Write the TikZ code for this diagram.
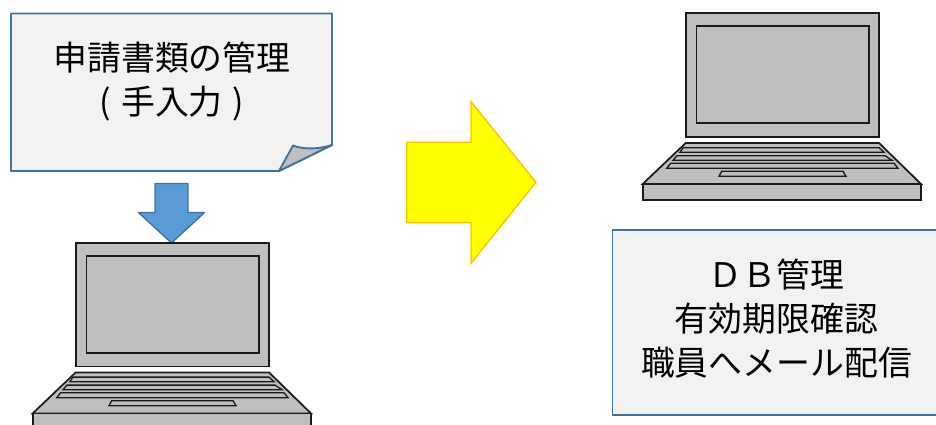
\documentclass[tikz,border=0pt]{standalone}
\usepackage{fontspec}
\setmainfont{Noto Sans CJK JP}
\definecolor{notefill}{HTML}{F2F2F2}
\definecolor{noteline}{HTML}{41719C}
\definecolor{downfill}{HTML}{5B9BD5}
\definecolor{nextfill}{HTML}{FFFF00}
\definecolor{nextline}{HTML}{FFC000}
\definecolor{pcgray}{HTML}{BFBFBF}
\definecolor{pcline}{HTML}{1A1A1A}
\tikzset{
  pcpart/.style={draw=pcline, fill=pcgray, line width=1.3pt, line join=miter},
  laptop/.pic={
    \draw[pcpart] (0,0) rectangle (193.3,123.7);
    \draw[pcpart] (10.7,13) rectangle (183,110);
    \draw[pcpart] (0,129.7) -- (193.3,129.7) -- (235.3,170.7) -- (-43,170.7) -- cycle;
    \draw[pcpart] (-43,170.7) rectangle (235.3,186.7);
    \draw[pcpart, line width=1pt] (-2.7,134.4) -- (-5.7,139) -- (198.3,139) -- (193.3,134.4) -- cycle;
    \draw[pcpart, line width=1pt] (-8.7,142.4) -- (-12.7,147) -- (206.3,147) -- (199.3,142.4) -- cycle;
    \draw[pcpart, line width=1pt] (-15,150) -- (-19,155) -- (212.3,155) -- (208.3,150) -- cycle;
    \draw[pcpart, line width=1pt] (36,158) -- (33.3,163) -- (160.3,163) -- (157.3,158) -- cycle;
  },
  shapeline/.style={draw=noteline, line width=1.4pt, line join=round},
  notetext/.style={align=center, font=\fontsize{25.4}{33}\selectfont, text=black}
}
\begin{document}
\begin{tikzpicture}[x=.75pt,y=-.75pt]
  \clip (0,0) rectangle (936,425);
  % note sheet
  \draw[shapeline, fill=notefill] (11,13.5) -- (332,13.5) -- (332,145) -- (279,171) -- (11,171) -- cycle;
  \draw[shapeline, fill=pcgray] (279,171) -- (293,145.5) .. controls (303,149.5) and (318,149.5) .. (332,145) -- cycle;
  \node[notetext] (sheet) at (172,82) {申請書類の管理\\(\hspace{.3em}手入力\hspace{.3em})};
  % arrows
  \draw[shapeline, line width=1pt, fill=downfill] (155,183.5) -- (188,183.5) -- (188,212.5) -- (204.5,212.5) -- (171.5,243) -- (138.5,212.5) -- (155,212.5) -- cycle;
  \draw[draw=nextline, fill=nextfill, line width=1pt] (406.7,142.3) -- (471,142.3) -- (471,101.7) -- (536,182.3) -- (471,263.3) -- (471,222.7) -- (406.7,222.7) -- cycle;
  % computers
  \pic (pcleft) at (75.7,242.7) {laptop};
  \pic (pcright) at (685.7,13.3) {laptop};
  % system box
  \node[shapeline, fill=notefill, minimum width=330pt, minimum height=138.5pt, anchor=north west, inner sep=0pt] (dbbox) at (611.5,229) {};
  \node[notetext] (dbtext) at (776.5,319) {ＤＢ管理\\有効期限確認\\職員へメール配信};
\end{tikzpicture}
\end{document}
